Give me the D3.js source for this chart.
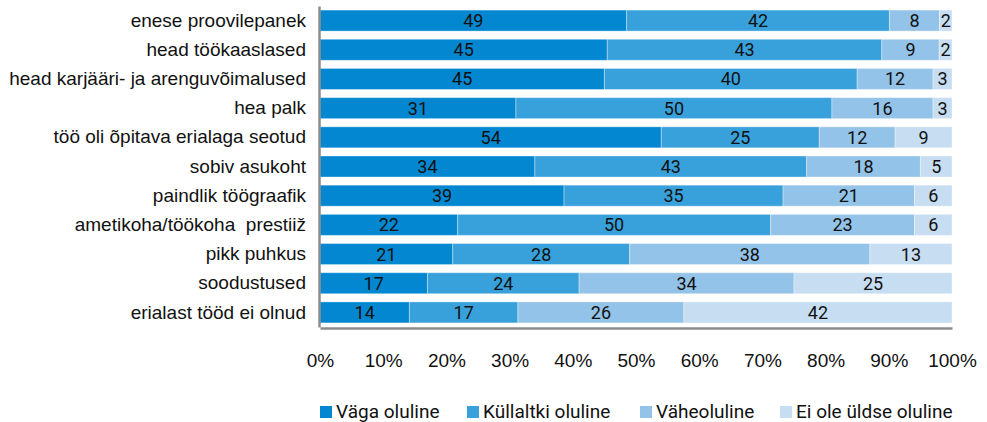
<!DOCTYPE html>
<html>
<head>
<meta charset="utf-8">
<script src="https://cdn.jsdelivr.net/npm/d3@7/dist/d3.min.js"></script>
<style>
  html, body { margin: 0; padding: 0; background: #fff; }
  svg { display: block; font-family: Roboto, "Noto Sans", sans-serif; }
</style>
</head>
<body>
<svg id="chart" width="987" height="422"></svg>
<script>
// Reasons for choosing the job, share of answers per importance level
const categories = [
  "enese proovilepanek",
  "head töökaaslased",
  "head karjääri- ja arenguvõimalused",
  "hea palk",
  "töö oli õpitava erialaga seotud",
  "sobiv asukoht",
  "paindlik töögraafik",
  "ametikoha/töökoha  prestiiž",
  "pikk puhkus",
  "soodustused",
  "erialast tööd ei olnud"
];
const seriesNames = ["Väga oluline", "Küllaltki oluline", "Väheoluline", "Ei ole üldse oluline"];
const vagaOluline      = [49, 45, 45, 31, 54, 34, 39, 22, 21, 17, 14];
const kullaltkiOluline = [42, 43, 40, 50, 25, 43, 35, 50, 28, 24, 17];
const vaheoluline      = [ 8,  9, 12, 16, 12, 18, 21, 23, 38, 34, 26];
const eiOleOluline     = [ 2,  2,  3,  3,  9,  5,  6,  6, 13, 25, 42];
const tickLabels = ["0%", "10%", "20%", "30%", "40%", "50%", "60%", "70%", "80%", "90%", "100%"];
const colors = ["#0287d0", "#38a1db", "#93c3e8", "#c6ddf2"];

const seriesValues = [vagaOluline, kullaltkiOluline, vaheoluline, eiOleOluline];
const rows = categories.map((c, i) => {
  const r = { category: c };
  seriesNames.forEach((s, k) => { r[s] = seriesValues[k][i]; });
  return r;
});

const svg = d3.select("#chart");
const margin = { left: 320, right: 35, top: 6, bottom: 95 };
const W = 987, H = 422;

const x = d3.scaleLinear().domain([0, 1]).range([margin.left, W - margin.right]);
const y = d3.scaleBand().domain(categories).range([margin.top, H - margin.bottom]).paddingInner(0.28).paddingOuter(0.14);

// stacked and normalised to 100 %
const stack = d3.stack().keys(seriesNames).offset(d3.stackOffsetExpand);
const layers = stack(rows);

const g = svg.append("g");
layers.forEach((layer, k) => {
  const lg = g.append("g");
  lg.selectAll("rect").data(layer).join("rect")
    .attr("x", d => x(d[0]))
    .attr("y", d => y(d.data.category))
    .attr("width", d => x(d[1]) - x(d[0]))
    .attr("height", y.bandwidth())
    .attr("fill", colors[k])
    .attr("stroke", "#ffffff")
    .attr("stroke-opacity", 0.35)
    .attr("stroke-width", 1);
  lg.selectAll("text").data(layer).join("text")
    .attr("x", d => (x(d[0]) + x(d[1])) / 2)
    .attr("y", d => y(d.data.category) + y.bandwidth() / 2)
    .attr("dy", "0.36em")
    .attr("text-anchor", "middle")
    .attr("font-size", 18)
    .attr("fill", "#111")
    .text(d => d.data[layer.key]);
});

// category axis
const yAxis = svg.append("g")
  .attr("transform", `translate(${margin.left - 1},0)`)
  .call(d3.axisLeft(y).tickSize(0).tickPadding(13));
yAxis.select(".domain").attr("stroke", "#8c8c8c").attr("stroke-width", 2.5);
yAxis.selectAll("text").attr("font-size", 19).attr("fill", "#111").style("white-space", "pre");

// percentage axis
const xAxis = svg.append("g")
  .attr("transform", `translate(0,${H - margin.bottom + 1})`)
  .call(d3.axisBottom(x).tickValues(d3.range(0, 1.0001, 0.1)).tickSize(0).tickPadding(26)
    .tickFormat((d, i) => tickLabels[i]));
xAxis.select(".domain").attr("stroke", "#8c8c8c").attr("stroke-width", 2.5);
xAxis.selectAll("text").attr("font-size", 19).attr("fill", "#111");

// legend
const legendX = [320, 467, 640, 780];
const legend = svg.append("g");
seriesNames.forEach((s, k) => {
  legend.append("rect").attr("x", legendX[k]).attr("y", 406).attr("width", 12).attr("height", 12).attr("fill", colors[k]);
  legend.append("text").attr("x", legendX[k] + 16).attr("y", 418)
    .attr("font-size", 19).attr("fill", "#111").text(s);
});
</script>
</body>
</html>
